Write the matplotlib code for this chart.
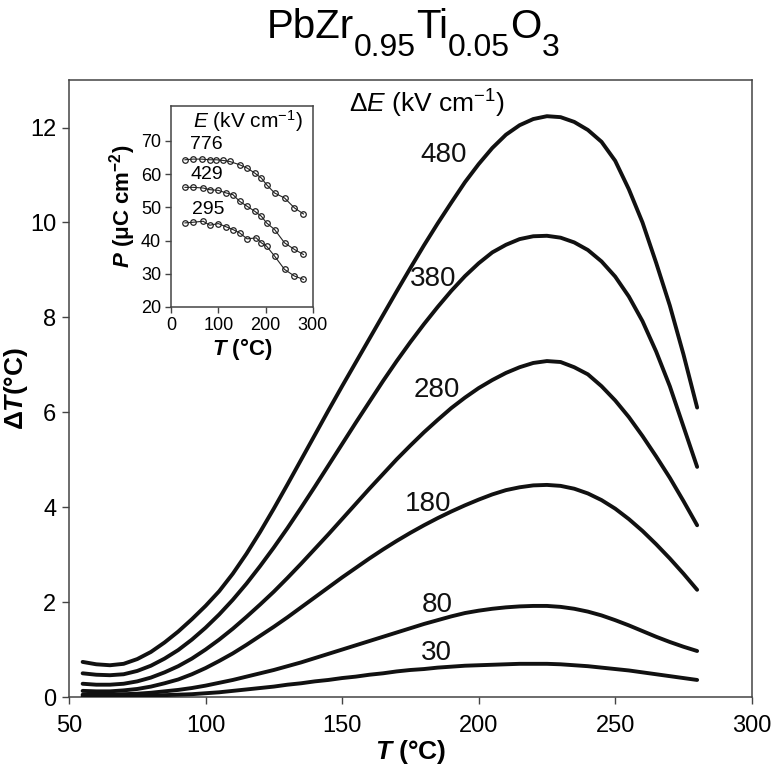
import matplotlib
matplotlib.use("Agg")
import matplotlib.pyplot as plt

plt.rcParams["font.family"] = ["Liberation Sans", "DejaVu Sans"]
plt.rcParams["mathtext.fontset"] = "custom"
plt.rcParams["mathtext.rm"] = "Liberation Sans"
plt.rcParams["mathtext.it"] = "Liberation Sans:italic"
plt.rcParams["mathtext.bf"] = "Liberation Sans:bold"
plt.rcParams["mathtext.bfit"] = "Liberation Sans:bold:italic"

# --- main panel: adiabatic temperature change vs T, one curve per field step ---
temps = [55, 60, 65, 70, 75, 80, 85, 90, 95, 100, 105, 110, 115, 120, 125, 130,
         135, 140, 145, 150, 155, 160, 165, 170, 175, 180, 185, 190, 195, 200,
         205, 210, 215, 220, 225, 230, 235, 240, 245, 250, 255, 260, 265, 270,
         275, 280]

dT_480 = [0.74, 0.69, 0.67, 0.70, 0.80, 0.95, 1.15, 1.38, 1.64, 1.92, 2.23, 2.60,
          3.02, 3.48, 3.97, 4.48, 5.00, 5.52, 6.04, 6.55, 7.05, 7.55, 8.05, 8.55,
          9.04, 9.52, 9.98, 10.42, 10.85, 11.23, 11.57, 11.85, 12.05, 12.18, 12.24,
          12.22, 12.12, 11.95, 11.70, 11.30, 10.70, 10.00, 9.15, 8.25, 7.22, 6.10]
dT_380 = [0.50, 0.47, 0.46, 0.48, 0.55, 0.66, 0.81, 0.99, 1.21, 1.46, 1.74, 2.05,
          2.39, 2.76, 3.15, 3.56, 3.99, 4.43, 4.88, 5.33, 5.78, 6.22, 6.66, 7.08,
          7.48, 7.86, 8.22, 8.56, 8.87, 9.14, 9.37, 9.53, 9.65, 9.71, 9.72, 9.68,
          9.58, 9.42, 9.18, 8.86, 8.44, 7.92, 7.28, 6.55, 5.70, 4.85]
dT_280 = [0.28, 0.26, 0.26, 0.28, 0.33, 0.41, 0.52, 0.65, 0.81, 1.00, 1.21, 1.44,
          1.69, 1.95, 2.22, 2.51, 2.81, 3.12, 3.43, 3.75, 4.07, 4.39, 4.70, 5.01,
          5.30, 5.58, 5.84, 6.09, 6.31, 6.51, 6.68, 6.83, 6.95, 7.04, 7.08, 7.06,
          6.95, 6.80, 6.55, 6.25, 5.90, 5.50, 5.07, 4.62, 4.13, 3.62]
dT_180 = [0.13, 0.12, 0.12, 0.14, 0.17, 0.22, 0.29, 0.37, 0.48, 0.61, 0.76, 0.92,
          1.10, 1.29, 1.48, 1.68, 1.89, 2.10, 2.31, 2.52, 2.72, 2.92, 3.11, 3.29,
          3.46, 3.62, 3.77, 3.91, 4.04, 4.16, 4.27, 4.36, 4.42, 4.46, 4.47, 4.45,
          4.39, 4.29, 4.15, 3.97, 3.75, 3.50, 3.22, 2.92, 2.60, 2.26]
dT_80 = [0.05, 0.05, 0.05, 0.06, 0.07, 0.09, 0.12, 0.15, 0.19, 0.24, 0.30, 0.36,
         0.43, 0.50, 0.57, 0.65, 0.73, 0.82, 0.91, 1.00, 1.09, 1.18, 1.27, 1.36,
         1.45, 1.54, 1.62, 1.70, 1.77, 1.82, 1.86, 1.89, 1.91, 1.92, 1.92, 1.90,
         1.86, 1.80, 1.72, 1.62, 1.51, 1.39, 1.27, 1.16, 1.06, 0.97]
dT_30 = [0.02, 0.02, 0.02, 0.02, 0.03, 0.03, 0.04, 0.05, 0.06, 0.08, 0.10, 0.13,
         0.16, 0.19, 0.22, 0.26, 0.29, 0.33, 0.36, 0.40, 0.43, 0.47, 0.50, 0.54,
         0.57, 0.59, 0.62, 0.64, 0.66, 0.67, 0.68, 0.69, 0.70, 0.70, 0.70, 0.69,
         0.67, 0.65, 0.62, 0.59, 0.56, 0.52, 0.48, 0.44, 0.40, 0.36]

field_labels = ["480", "380", "280", "180", "80", "30"]
label_T = [187, 183.5, 184.7, 181.5, 184.7, 184.7]
label_dT = [11.43, 8.81, 6.47, 4.07, 1.94, 0.93]

# --- inset: polarization vs T at three fields ---
E_labels = ["776", "429", "295"]
T_776 = [29.5, 47, 64.6, 82, 96, 110, 124, 145, 161, 177, 191, 202, 219, 240, 261, 280]
P_776 = [64.3, 64.5, 64.5, 64.3, 64.3, 64.1, 63.8, 62.8, 61.8, 60.3, 58.8, 56.8,
         54.3, 52.8, 49.8, 48.0]
T_429 = [29.5, 47, 68, 82, 100, 117, 131, 145, 161, 177, 191, 202, 219, 240, 261, 280]
P_429 = [56.0, 56.0, 55.8, 55.3, 55.1, 54.3, 53.8, 51.8, 50.3, 48.8, 47.3, 45.3,
         43.3, 39.3, 37.3, 35.8]
T_295 = [29.5, 47, 68, 82, 100, 117, 131, 145, 161, 180, 191, 202, 219, 240, 261, 280]
P_295 = [45.3, 45.5, 45.8, 44.6, 45.1, 44.1, 43.3, 42.3, 40.5, 40.8, 39.3, 38.3,
         35.3, 31.3, 29.3, 28.3]
E_label_T = [75, 75, 78]
E_label_P = [68.8, 59.9, 49.3]

# title pieces: (text, subscript?)
title_parts = [("PbZr", False), ("0.95", True), ("Ti", False), ("0.05", True),
               ("O", False), ("3", True)]

SPINE = "#444444"
W = H = 775

fig = plt.figure(figsize=(7.75, 7.75), dpi=100)
ax = fig.add_axes([0.089, 0.1006, 0.881, 0.796])

for vals in [dT_480, dT_380, dT_280, dT_180, dT_80, dT_30]:
    ax.plot(temps, vals, color="#111111", linewidth=2.8, solid_capstyle="round", zorder=3)

for lab, tx, ty in zip(field_labels, label_T, label_dT):
    ax.text(tx, ty, lab, fontsize=20, ha="center", va="center", color="#111111")

ax.text(181, 12.5, r"Δ$\mathit{E}$ (kV cm$^{-1}$)", fontsize=19, ha="center", va="center")

ax.set_xlim(50, 300)
ax.set_ylim(0, 13)
ax.set_xticks([50, 100, 150, 200, 250, 300])
ax.set_yticks([0, 2, 4, 6, 8, 10, 12])
ax.tick_params(direction="out", length=5, width=1.0, color=SPINE, labelsize=17, pad=4)
ax.tick_params(axis="x", pad=8)
for sp in ax.spines.values():
    sp.set_color(SPINE)
    sp.set_linewidth(1.1)
ax.set_xlabel(r"$\mathbfit{T}$ (°C)", fontsize=19, fontweight="bold", labelpad=1)
ax.set_ylabel(r"Δ$\mathbfit{T}$(°C)", fontsize=19, fontweight="bold", labelpad=0)

# title with large subscripts, laid out piece by piece
renderer = fig.canvas.get_renderer()
pieces = []
for txt, sub in title_parts:
    t = fig.text(0, 0, txt, fontsize=23 if sub else 29, va="baseline", ha="left")
    pieces.append((t, t.get_window_extent(renderer=renderer).width, sub))
x_px = 413 - sum(p[1] for p in pieces) / 2
for t, w, sub in pieces:
    base = 56 if sub else 38
    t.set_position((x_px / W, 1 - base / H))
    x_px += w

# --- inset ---
axi = fig.add_axes([0.2206, 0.6039, 0.1832, 0.2594])
for tt, pp in [(T_776, P_776), (T_429, P_429), (T_295, P_295)]:
    axi.plot(tt, pp, color="#222222", linewidth=0.8, marker="o", markersize=4,
             markerfacecolor="none", markeredgecolor="#222222", markeredgewidth=0.9)
for lab, tx, ty in zip(E_labels, E_label_T, E_label_P):
    axi.text(tx, ty, lab, fontsize=14, ha="center", va="center")
axi.text(162, 75.9, r"$\mathit{E}$ (kV cm$^{-1}$)", fontsize=15, ha="center", va="center")
axi.set_xlim(0, 300)
axi.set_ylim(20, 80.5)
axi.set_xticks([0, 100, 200, 300])
axi.set_yticks([20, 30, 40, 50, 60, 70])
axi.tick_params(direction="out", length=4, width=1.0, color=SPINE, labelsize=13, pad=3)
for sp in axi.spines.values():
    sp.set_color(SPINE)
    sp.set_linewidth(1.1)
axi.set_xlabel(r"$\mathbfit{T}$ (°C)", fontsize=16, fontweight="bold", labelpad=2)
axi.set_ylabel(r"$\mathbfit{P}$ (μC cm$^{\mathbf{-2}}$)", fontsize=16, fontweight="bold", labelpad=2)

fig.savefig("out.png", dpi=100)
